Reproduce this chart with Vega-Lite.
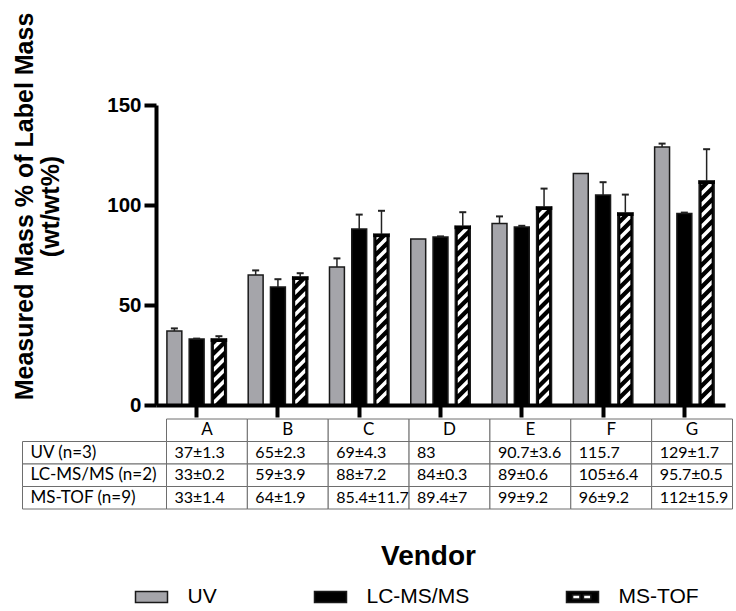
{
  "$schema": "https://vega.github.io/schema/vega-lite/v6.json",
  "background": "white",
  "padding": {"left": 12, "top": 8, "right": 5, "bottom": 5},
  "config": {"view": {"stroke": null}, "font": "Liberation Sans"},
  "bounds": "flush",
  "spacing": 14,
  "datasets": {
    "bars": [
      {"vendor": "A", "series": "UV", "mean": 37, "sd": 1.3},
      {"vendor": "B", "series": "UV", "mean": 65, "sd": 2.3},
      {"vendor": "C", "series": "UV", "mean": 69, "sd": 4.3},
      {"vendor": "D", "series": "UV", "mean": 83, "sd": null},
      {"vendor": "E", "series": "UV", "mean": 90.7, "sd": 3.6},
      {"vendor": "F", "series": "UV", "mean": 115.7, "sd": null},
      {"vendor": "G", "series": "UV", "mean": 129, "sd": 1.7},
      {"vendor": "A", "series": "LC-MS/MS", "mean": 33, "sd": 0.2},
      {"vendor": "B", "series": "LC-MS/MS", "mean": 59, "sd": 3.9},
      {"vendor": "C", "series": "LC-MS/MS", "mean": 88, "sd": 7.2},
      {"vendor": "D", "series": "LC-MS/MS", "mean": 84, "sd": 0.3},
      {"vendor": "E", "series": "LC-MS/MS", "mean": 89, "sd": 0.6},
      {"vendor": "F", "series": "LC-MS/MS", "mean": 105, "sd": 6.4},
      {"vendor": "G", "series": "LC-MS/MS", "mean": 95.7, "sd": 0.5},
      {"vendor": "A", "series": "MS-TOF", "mean": 33, "sd": 1.4},
      {"vendor": "B", "series": "MS-TOF", "mean": 64, "sd": 1.9},
      {"vendor": "C", "series": "MS-TOF", "mean": 85.4, "sd": 11.7},
      {"vendor": "D", "series": "MS-TOF", "mean": 89.4, "sd": 7},
      {"vendor": "E", "series": "MS-TOF", "mean": 99, "sd": 9.2},
      {"vendor": "F", "series": "MS-TOF", "mean": 96, "sd": 9.2},
      {"vendor": "G", "series": "MS-TOF", "mean": 112, "sd": 15.9}
    ],
    "table": [
      {"vendor": "A", "row": "hdr", "cell": "A"},
      {"vendor": "B", "row": "hdr", "cell": "B"},
      {"vendor": "C", "row": "hdr", "cell": "C"},
      {"vendor": "D", "row": "hdr", "cell": "D"},
      {"vendor": "E", "row": "hdr", "cell": "E"},
      {"vendor": "F", "row": "hdr", "cell": "F"},
      {"vendor": "G", "row": "hdr", "cell": "G"},
      {"vendor": "A", "row": "UV (n=3)", "cell": "37±1.3"},
      {"vendor": "B", "row": "UV (n=3)", "cell": "65±2.3"},
      {"vendor": "C", "row": "UV (n=3)", "cell": "69±4.3"},
      {"vendor": "D", "row": "UV (n=3)", "cell": "83"},
      {"vendor": "E", "row": "UV (n=3)", "cell": "90.7±3.6"},
      {"vendor": "F", "row": "UV (n=3)", "cell": "115.7"},
      {"vendor": "G", "row": "UV (n=3)", "cell": "129±1.7"},
      {"vendor": "A", "row": "LC-MS/MS (n=2)", "cell": "33±0.2"},
      {"vendor": "B", "row": "LC-MS/MS (n=2)", "cell": "59±3.9"},
      {"vendor": "C", "row": "LC-MS/MS (n=2)", "cell": "88±7.2"},
      {"vendor": "D", "row": "LC-MS/MS (n=2)", "cell": "84±0.3"},
      {"vendor": "E", "row": "LC-MS/MS (n=2)", "cell": "89±0.6"},
      {"vendor": "F", "row": "LC-MS/MS (n=2)", "cell": "105±6.4"},
      {"vendor": "G", "row": "LC-MS/MS (n=2)", "cell": "95.7±0.5"},
      {"vendor": "A", "row": "MS-TOF (n=9)", "cell": "33±1.4"},
      {"vendor": "B", "row": "MS-TOF (n=9)", "cell": "64±1.9"},
      {"vendor": "C", "row": "MS-TOF (n=9)", "cell": "85.4±11.7"},
      {"vendor": "D", "row": "MS-TOF (n=9)", "cell": "89.4±7"},
      {"vendor": "E", "row": "MS-TOF (n=9)", "cell": "99±9.2"},
      {"vendor": "F", "row": "MS-TOF (n=9)", "cell": "96±9.2"},
      {"vendor": "G", "row": "MS-TOF (n=9)", "cell": "112±15.9"}
    ],
    "rows": [
      {"col": "label", "row": "UV (n=3)"},
      {"col": "label", "row": "LC-MS/MS (n=2)"},
      {"col": "label", "row": "MS-TOF (n=9)"}
    ]
  },
  "vconcat": [
    {
      "width": 569,
      "height": 300,
      "data": {"name": "bars"},
      "encoding": {
        "x": {
          "field": "vendor", "type": "nominal",
          "scale": {"paddingInner": 0, "paddingOuter": 0},
          "axis": {"title": null, "labels": false, "domainColor": "black", "domainWidth": 4, "tickColor": "black", "tickWidth": 4, "tickSize": 12, "zindex": 1}
        },
        "xOffset": {
          "field": "series", "type": "nominal",
          "scale": {"domain": ["UV", "LC-MS/MS", "MS-TOF"], "paddingInner": 0.33, "paddingOuter": 0.49}
        }
      },
      "layer": [
        {
          "mark": {"type": "bar", "stroke": "#1a1a1a", "strokeWidth": 1.5},
          "encoding": {
            "y": {
              "field": "mean", "type": "quantitative",
              "scale": {"domain": [0, 150], "nice": false},
              "axis": {
                "values": [0, 50, 100, 150], "grid": false,
                "domainColor": "black", "domainWidth": 4, "tickColor": "black", "tickWidth": 4, "tickSize": 12,
                "labelFont": "Liberation Sans", "labelFontSize": 20.5, "labelFontWeight": "bold", "labelColor": "black", "labelPadding": 3,
                "title": ["Measured Mass % of Label  Mass", "(wt/wt%)"],
                "titleFont": "Liberation Sans", "titleFontSize": 25, "titleFontWeight": "bold", "titleColor": "black",
                "titleLineHeight": 26, "titleX": -119, "titleY": 101, "zindex": 1
              }
            },
            "fill": {
              "field": "series", "type": "nominal",
              "scale": {"domain": ["UV", "LC-MS/MS", "MS-TOF"], "range": ["#a5a5aa", "#000000", "#000000"]},
              "legend": {
                "orient": "none", "legendX": -21.5, "legendY": 475, "direction": "horizontal", "title": null,
                "labelFont": "Liberation Sans", "labelFontSize": 21, "labelColor": "black",
                "symbolSize": 1024, "symbolType": "M-1,-0.34H1V0.34H-1Z",
                "symbolStrokeColor": "#1a1a1a", "symbolStrokeWidth": 1.5, "symbolOpacity": 1,
                "labelOffset": 19, "columnPadding": 94, "gridAlign": "none", "padding": 0,
                "encode": {"symbols": {"update": {"shape": {"signal": "datum.value === 'MS-TOF' ? 'M-1,-0.34H1V0.34H-1Z M-0.62,-0.12V0.12H-0.16V-0.12Z M0.06,-0.12V0.12H0.52V-0.12Z' : 'M-1,-0.34H1V0.34H-1Z'"}}}}
              }
            }
          }
        },
        {
          "transform": [{"filter": "datum.series === 'MS-TOF'"}],
          "mark": {
            "type": "point", "filled": true, "fill": "white", "strokeWidth": 0, "opacity": 1, "size": 4,
            "shape": "M-5,0L5,-10L5,-15L-5,-5ZM-5,-11L5,-21L5,-26L-5,-16ZM-5,-22L5,-32L5,-37L-5,-27ZM-5,-33L5,-43L5,-48L-5,-38ZM-5,-44L5,-54L5,-59L-5,-49ZM-5,-55L5,-65L5,-70L-5,-60ZM-5,-66L5,-76L5,-81L-5,-71ZM-5,-77L5,-87L5,-92L-5,-82ZM-5,-88L5,-98L5,-103L-5,-93ZM-5,-99L5,-109L5,-114L-5,-104ZM-5,-110L5,-120L5,-125L-5,-115ZM-5,-121L5,-131L5,-136L-5,-126ZM-5,-132L5,-142L5,-147L-5,-137ZM-5,-143L5,-153L5,-158L-5,-148ZM-5,-154L5,-164L5,-169L-5,-159ZM-5,-165L5,-175L5,-180L-5,-170ZM-5,-176L5,-186L5,-191L-5,-181ZM-5,-187L5,-197L5,-202L-5,-192ZM-5,-198L5,-208L5,-213L-5,-203ZM-5,-209L5,-219L5,-224L-5,-214ZM-5,-220L5,-230L5,-235L-5,-225ZM-5,-231L5,-241L5,-246L-5,-236ZM-5,-242L5,-252L5,-257L-5,-247ZM-5,-253L5,-263L5,-268L-5,-258ZM-5,-264L5,-274L5,-279L-5,-269ZM-5,-275L5,-285L5,-290L-5,-280Z"
          },
          "encoding": {"y": {"datum": 0, "type": "quantitative"}}
        },
        {
          "transform": [{"filter": "datum.series === 'MS-TOF'"}],
          "mark": {"type": "bar", "fill": "white", "strokeWidth": 0},
          "encoding": {"y": {"field": "mean", "type": "quantitative"}, "y2": {"datum": 150}}
        },
        {
          "transform": [{"filter": "datum.series === 'MS-TOF'"}],
          "mark": {"type": "tick", "color": "black", "thickness": 3.75, "size": 16.5, "yOffset": 1.1, "opacity": 1},
          "encoding": {"y": {"field": "mean", "type": "quantitative"}}
        },
        {
          "transform": [{"filter": "isValid(datum.sd)"}, {"calculate": "datum.mean + datum.sd", "as": "hi"}],
          "mark": {"type": "rule", "color": "#222222", "strokeWidth": 1.5},
          "encoding": {"y": {"field": "mean", "type": "quantitative"}, "y2": {"field": "hi"}}
        },
        {
          "transform": [{"filter": "isValid(datum.sd)"}, {"calculate": "datum.mean + datum.sd", "as": "hi"}],
          "mark": {"type": "tick", "color": "#222222", "thickness": 2, "size": 7, "opacity": 1},
          "encoding": {"y": {"field": "hi", "type": "quantitative"}}
        }
      ]
    },
    {
      "width": 569,
      "height": 90,
      "resolve": {"scale": {"x": "independent"}},
      "layer": [
        {
          "data": {"name": "table"},
          "encoding": {
            "x": {
              "field": "vendor", "type": "nominal",
              "scale": {"range": [10.5, 576.5], "paddingInner": 0, "paddingOuter": 0},
              "axis": {"title": "Vendor", "labels": false, "ticks": false, "domain": false,
                       "titleFont": "Liberation Sans", "titleFontSize": 28, "titleFontWeight": "bold", "titleColor": "black",
                       "titlePadding": 33, "titleX": 272}
            },
            "y": {
              "field": "row", "type": "nominal",
              "scale": {"domain": ["hdr", "UV (n=3)", "LC-MS/MS (n=2)", "MS-TOF (n=9)"], "paddingInner": 0, "paddingOuter": 0},
              "axis": null
            }
          },
          "layer": [
            {"mark": {"type": "rect", "fill": "white", "stroke": "#6e6e6e", "strokeWidth": 1}},
            {
              "transform": [{"filter": "datum.row === 'hdr'"}],
              "mark": {"type": "text", "font": "Lato", "fontSize": 17, "color": "black", "align": "center", "baseline": "middle"},
              "encoding": {"text": {"field": "cell"}}
            },
            {
              "transform": [{"filter": "datum.row !== 'hdr'"}],
              "mark": {"type": "text", "font": "Lato", "fontSize": 16, "color": "black", "align": "left", "baseline": "middle", "dx": 8},
              "encoding": {"x": {"field": "vendor", "type": "nominal", "bandPosition": 0}, "text": {"field": "cell"}}
            }
          ]
        },
        {
          "data": {"name": "rows"},
          "encoding": {
            "x": {
              "field": "col", "type": "nominal",
              "scale": {"range": [-133.5, 10.5], "paddingInner": 0, "paddingOuter": 0},
              "axis": null
            },
            "y": {
              "field": "row", "type": "nominal",
              "scale": {"domain": ["hdr", "UV (n=3)", "LC-MS/MS (n=2)", "MS-TOF (n=9)"], "paddingInner": 0, "paddingOuter": 0},
              "axis": null
            }
          },
          "layer": [
            {"mark": {"type": "rect", "fill": "white", "stroke": "#6e6e6e", "strokeWidth": 1}},
            {
              "mark": {"type": "text", "font": "Lato", "fontSize": 17, "color": "black", "align": "left", "baseline": "middle", "dx": 8},
              "encoding": {"x": {"field": "col", "type": "nominal", "bandPosition": 0}, "text": {"field": "row"}}
            }
          ]
        }
      ]
    }
  ]
}
